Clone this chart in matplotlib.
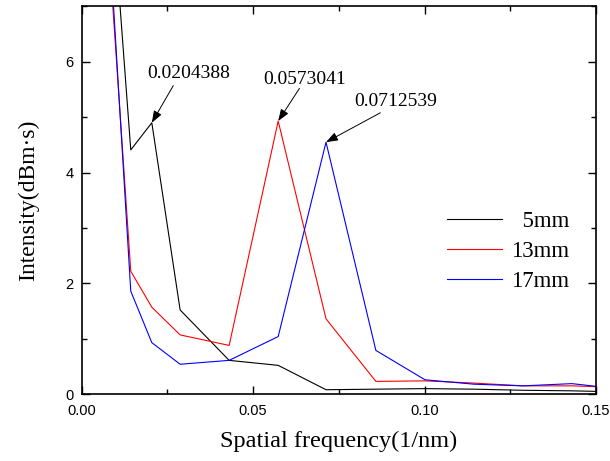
import matplotlib
matplotlib.use("Agg")
import matplotlib.pyplot as plt
from matplotlib.ticker import MultipleLocator

# spatial frequency samples (1/nm), shared by the three curves
freq = [0.0072, 0.0143, 0.0204388, 0.0287, 0.0430, 0.0573041, 0.0712539,
        0.0858, 0.1001, 0.1144, 0.1287, 0.1430, 0.1573]

i_5mm = [10.3, 4.41, 4.90, 1.52, 0.61, 0.52, 0.08, 0.09, 0.10, 0.09, 0.07, 0.06, 0.04]
i_13mm = [8.7, 2.22, 1.57, 1.07, 0.88, 4.93, 1.36, 0.23, 0.24, 0.20, 0.15, 0.15, 0.12]
i_17mm = [9.13, 1.86, 0.93, 0.54, 0.61, 1.04, 4.55, 0.79, 0.26, 0.18, 0.15, 0.19, 0.09]

labels = ["  5mm", "13mm", "17mm"]
colors = ["black", "red", "blue"]

# peak annotations: (label, index into freq, series)
peaks = [("0.0204388", 2, i_5mm), ("0.0573041", 5, i_13mm), ("0.0712539", 6, i_17mm)]
text_pos = [(0.0190, 5.79), (0.0530, 5.68), (0.0796, 5.29)]
tail_pos = [(0.0267, 5.57), (0.0635, 5.52), (0.0871, 5.08)]

SERIF = "Liberation Serif"
SANS = "Liberation Sans"

fig = plt.figure(figsize=(6.1, 4.61), dpi=100)
ax = fig.add_axes([0.134, 0.145, 0.843, 0.841])

for y, lab, c in zip([i_5mm, i_13mm, i_17mm], labels, colors):
    ax.plot(freq, y, color=c, lw=0.8, label=lab)

for (txt, k, series), tp, tl in zip(peaks, text_pos, tail_pos):
    ax.annotate("", xy=(freq[k], series[k]), xytext=tl,
                arrowprops=dict(arrowstyle="-|>,head_length=0.6,head_width=0.22",
                                color="black", lw=0.7,
                                mutation_scale=12, shrinkA=0, shrinkB=0))
    ax.text(tp[0], tp[1], txt, family=SERIF, fontsize=14, ha="left", va="center")

ax.set_xlim(0, 0.15)
ax.set_ylim(0, 7)
ax.xaxis.set_major_locator(MultipleLocator(0.05))
ax.xaxis.set_minor_locator(MultipleLocator(0.025))
ax.yaxis.set_major_locator(MultipleLocator(2))
ax.yaxis.set_minor_locator(MultipleLocator(1))
ax.xaxis.set_major_formatter(matplotlib.ticker.FormatStrFormatter("%.2f"))
ax.tick_params(which="both", direction="in", top=True, right=True, width=1.0)
ax.tick_params(which="major", length=6)
ax.tick_params(which="minor", length=3.5)
ax.tick_params(axis="x", pad=7)
ax.tick_params(axis="y", pad=6)
for lbl in ax.get_xticklabels() + ax.get_yticklabels():
    lbl.set_family(SANS)
    lbl.set_fontsize(10.5)
for s in ax.spines.values():
    s.set_linewidth(1.2)

ax.set_xlabel("Spatial frequency(1/nm)", family=SERIF, fontsize=17.5, labelpad=9)
ax.set_ylabel("Intensity(dBm·s)", family=SERIF, fontsize=17, labelpad=19)

ax.legend(loc="center left", bbox_to_anchor=(0.71, 0.368), frameon=False,
          prop={"family": SERIF, "size": 16.5}, handlelength=2.4,
          handletextpad=0.4, labelspacing=0.37, borderpad=0, borderaxespad=0)

fig.savefig("out.png", dpi=100)
